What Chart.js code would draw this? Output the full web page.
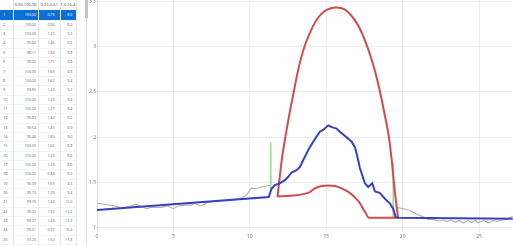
<!DOCTYPE html>
<html>
<head>
<meta charset="utf-8">
<script src="https://cdn.jsdelivr.net/npm/chart.js@4.4.1/dist/chart.umd.min.js"></script>
<style>
    html, body { margin: 0; padding: 0; background: #fff; width: 513px; height: 246px; overflow: hidden; }
    body { font-family: "Open Sans", "Noto Sans", sans-serif; position: relative; }
    #sheet { position: absolute; left: 0; top: 0; width: 84px; height: 246px; }
    .cell { position: absolute; white-space: nowrap; box-sizing: border-box; overflow: hidden; }
    .vline { position: absolute; top: 0; width: 1px; height: 246px; background: #e8e8e8; }
    .hline { position: absolute; left: 0; width: 76px; height: 1px; background: #f3f3f3; }
    #thumb { position: absolute; left: 85px; top: 0; width: 3px; height: 18px; background: #c4c4c4; }
    #track { position: absolute; left: 86px; top: 18px; width: 1px; height: 226px; background: #dcdcdc; }
    #chartBox { position: absolute; left: 86px; top: 0; width: 427px; height: 246px; }
</style>
</head>
<body>
<div id="sheet"></div>
<div id="thumb"></div>
<div id="track"></div>
<div id="chartBox"><canvas id="profileChart"></canvas></div>
<script>
// spreadsheet on the left
const headers = ['0.00-100.00', '0.25-2.61', '7.4-16.4'];
const colA = ['100.00', '100.00', '100.00', '99.66', '98.11', '98.00', '100.00', '100.00', '99.85', '100.00',
              '100.00', '99.83', '99.54', '99.46', '100.00', '100.00', '100.00', '100.00', '99.39', '99.73',
              '99.76', '99.42', '99.37', '99.01', '97.20'];
const colB = ['0.79', '0.94', '1.25', '1.46', '1.84', '1.75', '1.65', '1.62', '1.23', '1.23',
              '1.27', '1.42', '1.45', '1.85', '1.65', '1.23', '1.23', '0.84', '1.03', '1.09',
              '1.33', '1.92', '1.43', '0.92', '1.52'];
const colC = ['8.0', '8.0', '9.2', '9.6', '9.8', '9.8', '9.8', '9.4', '9.2', '9.4',
              '9.4', '9.2', '9.0', '9.0', '8.8', '8.6', '8.6', '9.0', '9.2', '9.4',
              '10.0', '11.2', '11.2', '10.4', '11.8'];
const selectedRow = 0;

// chart series
const grayX = [0, 0.5, 1.16, 1.49, 1.7, 1.92, 2.25, 2.58, 2.8, 3.23, 3.56, 3.89, 4.22, 4.65, 4.98, 5.3, 5.74, 6.18, 6.4, 6.73,
               7.05, 7.16, 7.6, 8.04, 8.47, 8.9, 9.35, 9.78, 10.1, 10.33, 10.77, 11.31, 11.4,
               19.6, 20.04, 20.48, 20.92, 21.35, 21.68, 22.0, 22.3, 22.6, 22.9, 23.2, 23.42, 23.7, 23.97, 24.25, 24.52,
               24.75, 24.95, 25.3, 25.61, 25.9, 26.2, 26.5, 26.8, 27.0, 27.2];
const grayY = [1.27, 1.26, 1.24, 1.225, 1.21, 1.23, 1.24, 1.26, 1.24, 1.21, 1.225, 1.225, 1.225, 1.24, 1.21, 1.24, 1.25, 1.25, 1.27, 1.24,
               1.26, 1.27, 1.29, 1.30, 1.305, 1.31, 1.32, 1.36, 1.44, 1.43, 1.45, 1.47, null,
               1.225, 1.21, 1.19, 1.15, 1.12, 1.09, 1.095, 1.075, 1.085, 1.07, 1.085, 1.06, 1.08, 1.05, 1.08, 1.06,
               1.08, 1.055, 1.08, 1.05, 1.08, 1.07, 1.085, 1.09, 1.11, 1.125];

const blueX = [0, 11.24, 11.42, 11.64, 11.96, 12.29, 12.5, 12.73, 13.06, 13.27, 13.49, 13.71, 13.93, 14.26, 14.58, 14.8,
               15.13, 15.35, 15.68, 15.89, 16.33, 16.66, 16.88, 17.09, 17.2, 17.53, 17.75, 18.01, 18.19, 18.5, 18.84,
               19.16, 19.38, 19.54, 19.7, 27.2];
const blueY = [1.195, 1.34, 1.43, 1.47, 1.49, 1.525, 1.56, 1.61, 1.635, 1.67, 1.745, 1.82, 1.89, 1.98, 2.06, 2.08,
               2.13, 2.11, 2.095, 2.06, 2.0, 1.95, 1.89, 1.745, 1.66, 1.49, 1.45, 1.49, 1.40, 1.385, 1.32,
               1.27, 1.21, 1.12, 1.11, 1.10];

const redUpperX = [11.81, 12.1, 12.5, 12.85, 13.2, 13.5, 13.9, 14.35, 14.8, 15.25, 15.7, 16.2, 16.65, 17.1, 17.55,
                   18.0, 18.4, 18.8, 19.1, 19.3, 19.5, 19.7];
const redUpperY = [1.34, 1.76, 2.17, 2.48, 2.77, 2.96, 3.14, 3.29, 3.38, 3.42, 3.43, 3.41, 3.34, 3.23, 3.06,
                   2.84, 2.59, 2.27, 2.0, 1.72, 1.38, 1.11];
const redLowerX = [11.81, 13.82, 14.26, 14.7, 15.13, 15.57, 16.0, 16.44, 16.88, 17.2, 17.53, 17.8, 19.7];
const redLowerY = [1.345, 1.385, 1.434, 1.46, 1.467, 1.46, 1.434, 1.396, 1.335, 1.27, 1.176, 1.11, 1.11];

const markerX = [11.37, 19.38];
const markerTop = [1.94, 1.71];
const markerBottom = [1.40, 1.11];

const xTicks = [0, 5, 10, 15, 20, 25];
const yTicks = [1, 1.5, 2, 2.5, 3, 3.5];

// --- build the sheet
const sheet = document.getElementById('sheet');
const colEdges = [0, 12.7, 38.3, 60, 75.5];
const headerH = 10.4;
const rowH = 9.35;

function addCell(text, left, width, top, height, opts) {
    const d = document.createElement('div');
    d.className = 'cell';
    d.textContent = text;
    d.style.left = left + 'px';
    d.style.width = width + 'px';
    d.style.top = top + 'px';
    d.style.height = height + 'px';
    d.style.lineHeight = height + 'px';
    d.style.fontSize = opts.size + 'px';
    d.style.color = opts.color;
    d.style.textAlign = opts.align;
    if (opts.pad) d.style[opts.align === 'left' ? 'paddingLeft' : 'paddingRight'] = opts.pad + 'px';
    if (opts.bg) d.style.background = opts.bg;
    sheet.appendChild(d);
}

for (let c = 0; c < headers.length; c++) {
    addCell(headers[c], colEdges[c + 1], colEdges[c + 2] - colEdges[c + 1], 0, headerH,
        { size: 4.1, color: '#444', align: 'center' });
}

const pads = [2.3, 5.5, 3.3];
for (let r = 0; r < colA.length; r++) {
    const top = headerH + r * rowH;
    const sel = r === selectedRow;
    if (sel) addCell('', 0, colEdges[4], top, rowH, { size: 4, color: '#fff', align: 'left', bg: '#0b6fd6' });
    addCell(String(r + 1), 0, colEdges[1], top, rowH, { size: 3.9, color: sel ? '#fff' : '#555', align: 'left', pad: 3 });
    const vals = [colA[r], colB[r], colC[r]];
    for (let c = 0; c < 3; c++) {
        addCell(vals[c], colEdges[c + 1], colEdges[c + 2] - colEdges[c + 1], top, rowH,
            { size: 3.6, color: sel ? '#fff' : '#666', align: 'right', pad: pads[c] });
    }
    const hl = document.createElement('div');
    hl.className = 'hline';
    hl.style.top = (top + rowH) + 'px';
    sheet.appendChild(hl);
}
for (let c = 1; c < colEdges.length; c++) {
    const vl = document.createElement('div');
    vl.className = 'vline';
    vl.style.left = colEdges[c] + 'px';
    sheet.appendChild(vl);
}

// --- chart
const toPoints = (xs, ys) => xs.map((x, i) => ({ x: x, y: ys[i] }));
const markerSets = markerX.map((x, i) => ({
    data: [{ x: x, y: markerTop[i] }, { x: x, y: markerBottom[i] }],
    borderColor: 'rgba(130, 195, 130, 0.55)',
    borderWidth: 1,
    pointRadius: 0,
    order: 2
}));

new Chart(document.getElementById('profileChart').getContext('2d'), {
    type: 'line',
    data: {
        datasets: [
            {
                data: toPoints(blueX, blueY),
                borderColor: '#3a3fbf',
                borderWidth: 2,
                pointRadius: 0,
                tension: 0,
                order: 0
            },
            {
                data: toPoints(redUpperX, redUpperY),
                borderColor: '#d44a4c',
                borderWidth: 2,
                pointRadius: 0,
                cubicInterpolationMode: 'monotone',
                order: 1
            },
            {
                data: toPoints(redLowerX, redLowerY),
                borderColor: '#d44a4c',
                borderWidth: 2,
                pointRadius: 0,
                cubicInterpolationMode: 'monotone',
                order: 1
            },
            ...markerSets,
            {
                data: toPoints(grayX, grayY),
                borderColor: '#b0b0b0',
                borderWidth: 1.1,
                pointRadius: 0,
                spanGaps: false,
                tension: 0,
                order: 3
            }
        ]
    },
    options: {
        responsive: true,
        maintainAspectRatio: false,
        animation: false,
        layout: { padding: 0 },
        plugins: { legend: { display: false }, tooltip: { enabled: false } },
        scales: {
            x: {
                type: 'linear',
                min: 0,
                max: 27.22,
                afterBuildTicks: s => { s.ticks = xTicks.map(v => ({ value: v })); },
                afterFit: s => { s.height = 14; s.paddingLeft = 0; s.paddingRight = 0; },
                ticks: { font: { size: 5, family: 'Open Sans' }, color: '#777', padding: 2, maxRotation: 0,
                         callback: v => String(v) },
                grid: { color: '#ececec', drawTicks: false },
                border: { display: false }
            },
            y: {
                type: 'linear',
                min: 0.953,
                max: 3.514,
                afterBuildTicks: s => { s.ticks = yTicks.map(v => ({ value: v })); },
                afterFit: s => { s.width = 11; s.paddingTop = 0; s.paddingBottom = 0; },
                ticks: { font: { size: 5, family: 'Open Sans' }, color: '#777', padding: 1,
                         callback: v => String(v) },
                grid: { color: '#ececec', drawTicks: false },
                border: { color: '#dddddd' }
            }
        }
    }
});
</script>
</body>
</html>
